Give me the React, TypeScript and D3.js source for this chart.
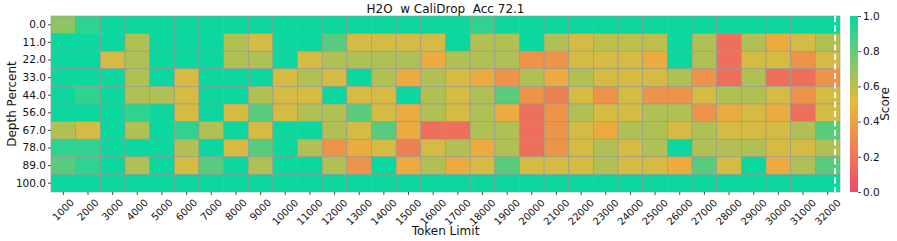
import React, { useEffect, useRef } from 'react';
import * as d3 from 'd3';

const tokenLimits = [
  1000, 2000, 3000, 4000, 5000, 6000, 7000, 8000, 9000, 10000, 11000, 12000, 13000, 14000, 15000, 16000,
  17000, 18000, 19000, 20000, 21000, 22000, 23000, 24000, 25000, 26000, 27000, 28000, 29000, 30000, 31000, 32000,
];
const depthPercents = ['0.0', '11.0', '22.0', '33.0', '44.0', '56.0', '67.0', '78.0', '89.0', '100.0'];

// one row of scores per depth
const depth0 = [0.71, 0.92, 1, 1, 1, 1, 1, 1, 1, 1, 1, 1, 1, 1, 1, 1, 1, 0.92, 1, 1, 1, 1, 1, 1, 1, 1, 1, 1, 1, 1, 1, 1];
const depth11 = [1, 1, 1, 0.63, 1, 1, 1, 0.63, 0.55, 1, 1, 0.83, 0.55, 0.55, 0.55, 0.55, 1, 0.63, 0.63, 1, 0.63, 0.55, 0.6, 0.6, 0.6, 1, 0.63, 0.17, 0.63, 0.44, 0.55, 0.63];
const depth22 = [1, 1, 0.55, 0.63, 1, 1, 1, 0.63, 0.63, 1, 0.55, 0.63, 0.63, 0.63, 0.63, 0.44, 0.63, 0.63, 0.63, 0.34, 0.34, 0.55, 0.55, 0.55, 0.44, 1, 0.63, 0.17, 0.55, 0.55, 0.34, 0.55];
const depth33 = [1, 1, 1, 0.63, 1, 0.55, 1, 1, 1, 0.55, 0.63, 0.55, 1, 0.63, 0.44, 0.63, 0.55, 0.44, 0.34, 0.63, 0.44, 0.63, 0.55, 0.55, 0.55, 0.63, 0.34, 0.17, 0.63, 0.17, 0.17, 0.34];
const depth44 = [1, 0.92, 1, 0.63, 0.63, 0.55, 1, 1, 0.63, 0.55, 0.55, 1, 0.55, 0.55, 1, 0.63, 0.55, 0.63, 0.83, 0.34, 0.25, 0.55, 0.34, 0.55, 0.34, 0.34, 0.55, 0.63, 0.63, 0.55, 0.34, 0.55];
const depth56 = [1, 1, 1, 0.92, 1, 0.55, 1, 0.55, 0.83, 0.55, 0.63, 0.63, 0.83, 0.55, 0.44, 0.63, 0.55, 0.63, 0.44, 0.17, 0.34, 0.63, 0.55, 0.55, 0.63, 0.63, 0.34, 0.44, 0.55, 0.44, 0.17, 0.55];
const depth67 = [0.63, 0.55, 1, 0.63, 1, 0.92, 0.63, 1, 0.55, 1, 1, 0.63, 0.55, 0.83, 0.44, 0.17, 0.17, 0.63, 0.63, 0.17, 0.34, 0.55, 0.44, 0.63, 0.63, 0.55, 0.63, 0.55, 0.55, 0.55, 0.63, 0.83];
const depth78 = [0.92, 0.92, 1, 1, 1, 0.63, 1, 0.55, 0.83, 1, 0.63, 0.34, 0.44, 0.55, 0.25, 0.55, 0.63, 0.44, 0.63, 0.17, 0.34, 0.55, 0.63, 0.55, 0.63, 1, 0.63, 0.63, 0.63, 0.55, 0.55, 0.63];
const depth89 = [0.83, 0.92, 1, 0.63, 1, 0.55, 0.83, 1, 0.63, 1, 1, 0.63, 0.34, 1, 0.44, 0.63, 0.44, 0.55, 0.83, 0.55, 0.55, 0.55, 0.63, 0.55, 0.55, 0.44, 0.83, 0.55, 1, 0.44, 0.63, 0.83];
const depth100 = [1, 1, 1, 1, 1, 1, 1, 1, 1, 1, 1, 1, 1, 1, 1, 1, 1, 1, 1, 1, 1, 1, 1, 1, 1, 1, 1, 1, 1, 1, 1, 1];

const scoreRows = [depth0, depth11, depth22, depth33, depth44, depth56, depth67, depth78, depth89, depth100];
const colorbarTicks = [0, 0.2, 0.4, 0.6, 0.8, 1.0];
// dashed marker, in column units
const limitMarker = 31.8;

const W = 897;
const H = 241;
const FONT = 'DejaVu Sans';

export default function App() {
  const svgRef = useRef<SVGSVGElement>(null);

  useEffect(() => {
    if (!svgRef.current) return;
    const svg = d3.select(svgRef.current);
    svg.selectAll('*').remove();

    const left = 51, right = 840, top = 16, bottom = 192;

    const x = d3.scaleBand<string>()
      .domain(tokenLimits.map(String))
      .range([left, right]);
    const y = d3.scaleBand<string>()
      .domain(depthPercents)
      .range([top, bottom]);
    const xCol = d3.scaleLinear().domain([0, tokenLimits.length]).range([left, right]);

    const color = d3.scaleLinear<string>()
      .domain([0, 0.5, 1])
      .range(['#F0496E', '#EBB839', '#0CD79F'])
      .interpolate(d3.interpolateRgb);

    const cells = scoreRows.flatMap((row, i) =>
      row.map((v, j) => ({ depth: depthPercents[i], token: String(tokenLimits[j]), v }))
    );

    // cells
    svg.append('g')
      .selectAll('rect')
      .data(cells)
      .join('rect')
      .attr('x', d => x(d.token)!)
      .attr('y', d => y(d.depth)!)
      .attr('width', x.bandwidth())
      .attr('height', y.bandwidth())
      .attr('fill', d => color(d.v))
      .attr('stroke', '#8f9a8f')
      .attr('stroke-width', 0.6);

    // dashed marker line
    svg.append('line')
      .attr('x1', xCol(limitMarker))
      .attr('x2', xCol(limitMarker))
      .attr('y1', top)
      .attr('y2', bottom)
      .attr('stroke', '#ffffff')
      .attr('stroke-width', 1.8)
      .attr('stroke-dasharray', '6,3.5');

    // y axis
    const yAxis = svg.append('g')
      .attr('transform', `translate(${left},0)`)
      .call(d3.axisLeft(y).tickSize(3).tickPadding(2));
    yAxis.select('.domain').remove();
    yAxis.selectAll('.tick line').attr('stroke', '#222').attr('stroke-width', 0.8);
    yAxis.selectAll('.tick text')
      .attr('font-family', FONT)
      .attr('font-size', 10.5)
      .attr('fill', '#111');

    // x axis ticks
    const xAxis = svg.append('g')
      .attr('transform', `translate(0,${bottom})`)
      .call(d3.axisBottom(x).tickSize(3).tickFormat(() => ''));
    xAxis.select('.domain').remove();
    xAxis.selectAll('.tick line').attr('stroke', '#222').attr('stroke-width', 0.8);

    // rotated x labels, bbox centered on tick
    const fs = 10;
    svg.append('g')
      .selectAll('text')
      .data(tokenLimits)
      .join('text')
      .attr('font-family', FONT)
      .attr('font-size', fs)
      .attr('fill', '#111')
      .attr('text-anchor', 'middle')
      .attr('dominant-baseline', 'central')
      .attr('transform', d => {
        const w = String(d).length * 0.636 * fs;
        const cx = x(String(d))! + x.bandwidth() / 2;
        const cy = bottom + 5 + (w + 11) * 0.354;
        return `translate(${cx},${cy}) rotate(-45)`;
      })
      .text(d => String(d));

    // axis titles
    svg.append('text')
      .attr('x', (left + right) / 2)
      .attr('y', 235)
      .attr('text-anchor', 'middle')
      .attr('font-family', FONT)
      .attr('font-size', 12)
      .attr('fill', '#111')
      .text('Token Limit');

    svg.append('text')
      .attr('transform', `translate(16,${(top + bottom) / 2}) rotate(-90)`)
      .attr('text-anchor', 'middle')
      .attr('font-family', FONT)
      .attr('font-size', 12)
      .attr('fill', '#111')
      .text('Depth Percent');

    svg.append('text')
      .attr('x', (left + right) / 2)
      .attr('y', 13)
      .attr('text-anchor', 'middle')
      .attr('font-family', FONT)
      .attr('font-size', 12)
      .attr('fill', '#111')
      .style('white-space', 'pre')
      .text('H2O  w CaliDrop  Acc 72.1');

    // colorbar
    const cbX = 850, cbW = 8;
    const grad = svg.append('defs').append('linearGradient')
      .attr('id', 'cb-grad')
      .attr('x1', '0%').attr('y1', '100%')
      .attr('x2', '0%').attr('y2', '0%');
    [0, 0.5, 1].forEach(s => {
      grad.append('stop').attr('offset', `${s * 100}%`).attr('stop-color', color(s));
    });
    svg.append('rect')
      .attr('x', cbX)
      .attr('y', top)
      .attr('width', cbW)
      .attr('height', bottom - top)
      .attr('fill', 'url(#cb-grad)');

    const cbScale = d3.scaleLinear().domain([0, 1]).range([bottom, top]);
    const cbAxis = svg.append('g')
      .attr('transform', `translate(${cbX + cbW},0)`)
      .call(d3.axisRight(cbScale).tickValues(colorbarTicks).tickSize(3).tickPadding(2).tickFormat(d3.format('.1f')));
    cbAxis.select('.domain').remove();
    cbAxis.selectAll('.tick line').attr('stroke', '#222').attr('stroke-width', 0.8);
    cbAxis.selectAll('.tick text')
      .attr('font-family', FONT)
      .attr('font-size', 10.5)
      .attr('fill', '#111');

    svg.append('text')
      .attr('transform', `translate(889,${(top + bottom) / 2}) rotate(-90)`)
      .attr('text-anchor', 'middle')
      .attr('font-family', FONT)
      .attr('font-size', 12)
      .attr('fill', '#111')
      .text('Score');
  }, []);

  return (
    <svg
      ref={svgRef}
      width={W}
      height={H}
      style={{ position: 'absolute', left: 0, top: 0, background: '#fff' }}
    />
  );
}
